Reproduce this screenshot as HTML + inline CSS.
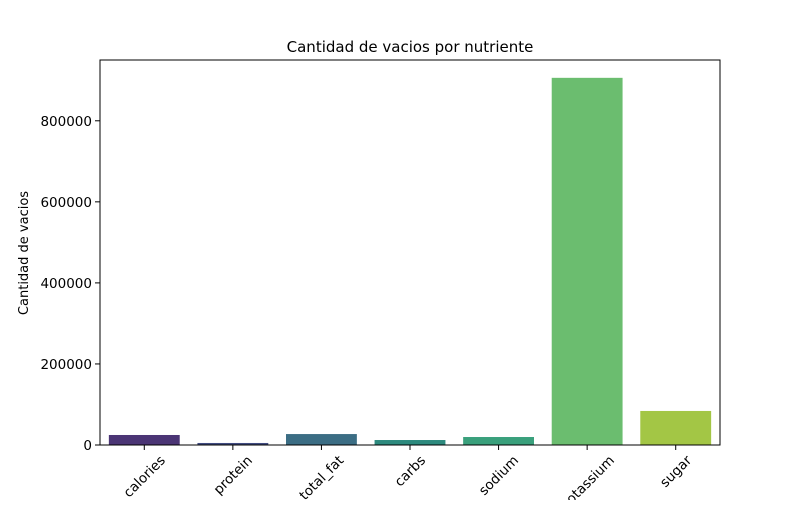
<!DOCTYPE html>
<html><head><meta charset="utf-8"><style>
body{margin:0;background:#fff;font-family:"Liberation Sans","DejaVu Sans",sans-serif;}
text{font-family:"DejaVu Sans","Liberation Sans",sans-serif;}
</style></head><body>
<svg id="chart" width="800" height="500" xmlns="http://www.w3.org/2000/svg">
<text x="410" y="52" font-size="15" text-anchor="middle">Cantidad de vacios por nutriente</text>
<text transform="translate(28,253) rotate(-90)" font-size="13" text-anchor="middle">Cantidad de vacios</text>
<g id="bars"></g><g id="axes"></g>
<rect x="100" y="60" width="620" height="385" fill="none" stroke="#000" stroke-width="1"/>
</svg>
<script>
const categories=["calories","protein","total_fat","carbs","sodium","potassium","sugar"];
const values=[24700,5000,27000,12300,19700,906000,84000];
const colors=["#4b3575","#414b80","#3b6d84","#2d8a7e","#3aa07c","#6bbd6f","#a3c645"];
const yTicks=[0,200000,400000,600000,800000];
const L=100,R=720,T=60,B=445,yMax=950000;
const ns="http://www.w3.org/2000/svg";
const y=v=>B-v/yMax*(B-T);
const step=(R-L)/categories.length;
const x=i=>L+step*(i+0.5);
const bars=document.getElementById('bars'),axes=document.getElementById('axes');
function mk(t,a,p){const e=document.createElementNS(ns,t);for(const k in a)e.setAttribute(k,a[k]);p.appendChild(e);return e;}
categories.forEach((c,i)=>{
 const r=mk('rect',{x:x(i)-step*0.4,y:y(values[i]),width:step*0.8,height:B-y(values[i]),fill:colors[i]},bars);
 
 
 const t=mk('line',{x1:x(i),x2:x(i),y1:B,y2:B+5,stroke:'#000'},axes);
 
 
 const tx=mk('text',{x:0,y:4.5,'font-size':13.5,'text-anchor':'middle'},axes);
 tx.textContent=c;
 const w=tx.getComputedTextLength(),h=14;
 const bh=(w+h)*0.7071;
 tx.setAttribute('transform',`translate(${x(i)},${B+8+bh/2}) rotate(-45)`);
 
 
});
yTicks.forEach(v=>{
 const t=mk('line',{x1:L-5,x2:L,y1:y(v),y2:y(v),stroke:'#000'},axes);
 
 
 const tx=mk('text',{x:L-8,y:y(v)+5,'font-size':13.5,'text-anchor':'end'},axes);
 tx.textContent=v;
 
 
});
</script>
</body></html>
